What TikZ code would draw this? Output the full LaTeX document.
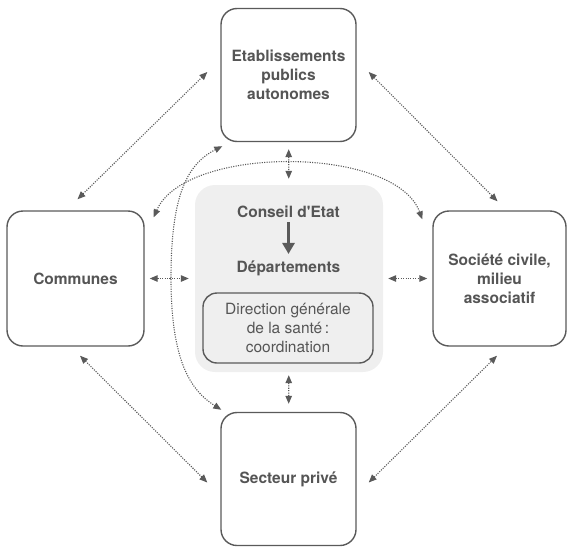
\documentclass[tikz,border=0pt]{standalone}
\usepackage{fontspec}
\setmainfont{TeX Gyre Heros}
\usetikzlibrary{arrows.meta}
\definecolor{linegray}{HTML}{5A5A5A}
\definecolor{textgray}{HTML}{555555}
\definecolor{panelgray}{HTML}{EFEFEF}

\begin{document}
\begin{tikzpicture}[x=1pt,y=-1pt,
    actor/.style={draw=linegray,line width=1.4pt,rounded corners=16pt,fill=white,
      minimum width=135pt,minimum height=133pt,align=center,text=textgray,
      font=\fontsize{15.5}{19}\selectfont\bfseries},
    label/.style={text=textgray,font=\fontsize{15.5}{19}\selectfont\bfseries},
    link/.style={linegray,line width=1.1pt,dash pattern=on 1.1pt off 1.3pt,
      {Triangle[length=8pt,width=6.5pt]}-{Triangle[length=8pt,width=6.5pt]}}]
    \useasboundingbox (0,0) rectangle (567,546);
            \node[actor] (etab) at (288.5, 75) {Etablissements\\publics\\autonomes};
            \node[actor,minimum width=137pt,minimum height=135pt] (communes) at (75.5, 278.5) {Communes};
            \node[actor,minimum width=133pt,minimum height=135pt] (societe) at (499.5, 278.5) {Société civile,\\milieu\\associatif};
            \node[actor] (prive) at (288.5, 479) {Secteur privé};
            \node[fill=panelgray,rounded corners=20pt,minimum width=188pt,minimum height=187pt] (centre) at (289, 278.5) {};
            \node[label] (conseil) at (288.5, 212) {Conseil d\textquotesingle Etat};
            \node[label] (depart) at (288.5, 268) {Départements};
            \node[draw=linegray,line width=1.4pt,rounded corners=14pt,fill=panelgray,minimum width=170pt,minimum height=70pt,
              align=center,text=textgray,font=\fontsize{15.5}{19}\selectfont] (dgs) at (288, 328) {Direction générale\\de la santé\,:\\coordination};
            \draw[linegray,line width=3pt,-{Triangle[length=11pt,width=12pt]},shorten <=1pt,shorten >=3pt] (conseil) -- (depart);
            \draw[link] ([shift={(2,-11)}]communes.north) -- ([shift={(-13,-3)}]etab.west);
            \draw[link] ([shift={(12,-3)}]etab.east) -- ([shift={(-2,-9)}]societe.north);
            \draw[link] ([shift={(4.5,9)}]communes.south) -- ([shift={(-13,3.5)}]prive.west);
            \draw[link] ([shift={(12,3.5)}]prive.east) -- ([shift={(-2.5,9)}]societe.south);
            \draw[link,shorten <=7pt,shorten >=6pt] (etab) -- (centre);
            \draw[link,shorten <=3pt,shorten >=8pt] (centre) -- (prive);
            \draw[link,shorten <=5pt,shorten >=6pt] (communes) -- (centre);
            \draw[link,shorten <=5pt,shorten >=5pt] (centre) -- (societe);
            \draw[link] ([shift={(9,7)}]communes.north east) .. controls (185,145) and (395,145) .. ([shift={(-10,9)}]societe.north west);
            \draw[link] ([shift={(2,4)}]etab.south west) .. controls (185,165) and (171,200) .. (171,278)
              .. controls (171,360) and (190,390) .. ([shift={(1,-2)}]prive.north west);
    \end{tikzpicture}
\end{document}
